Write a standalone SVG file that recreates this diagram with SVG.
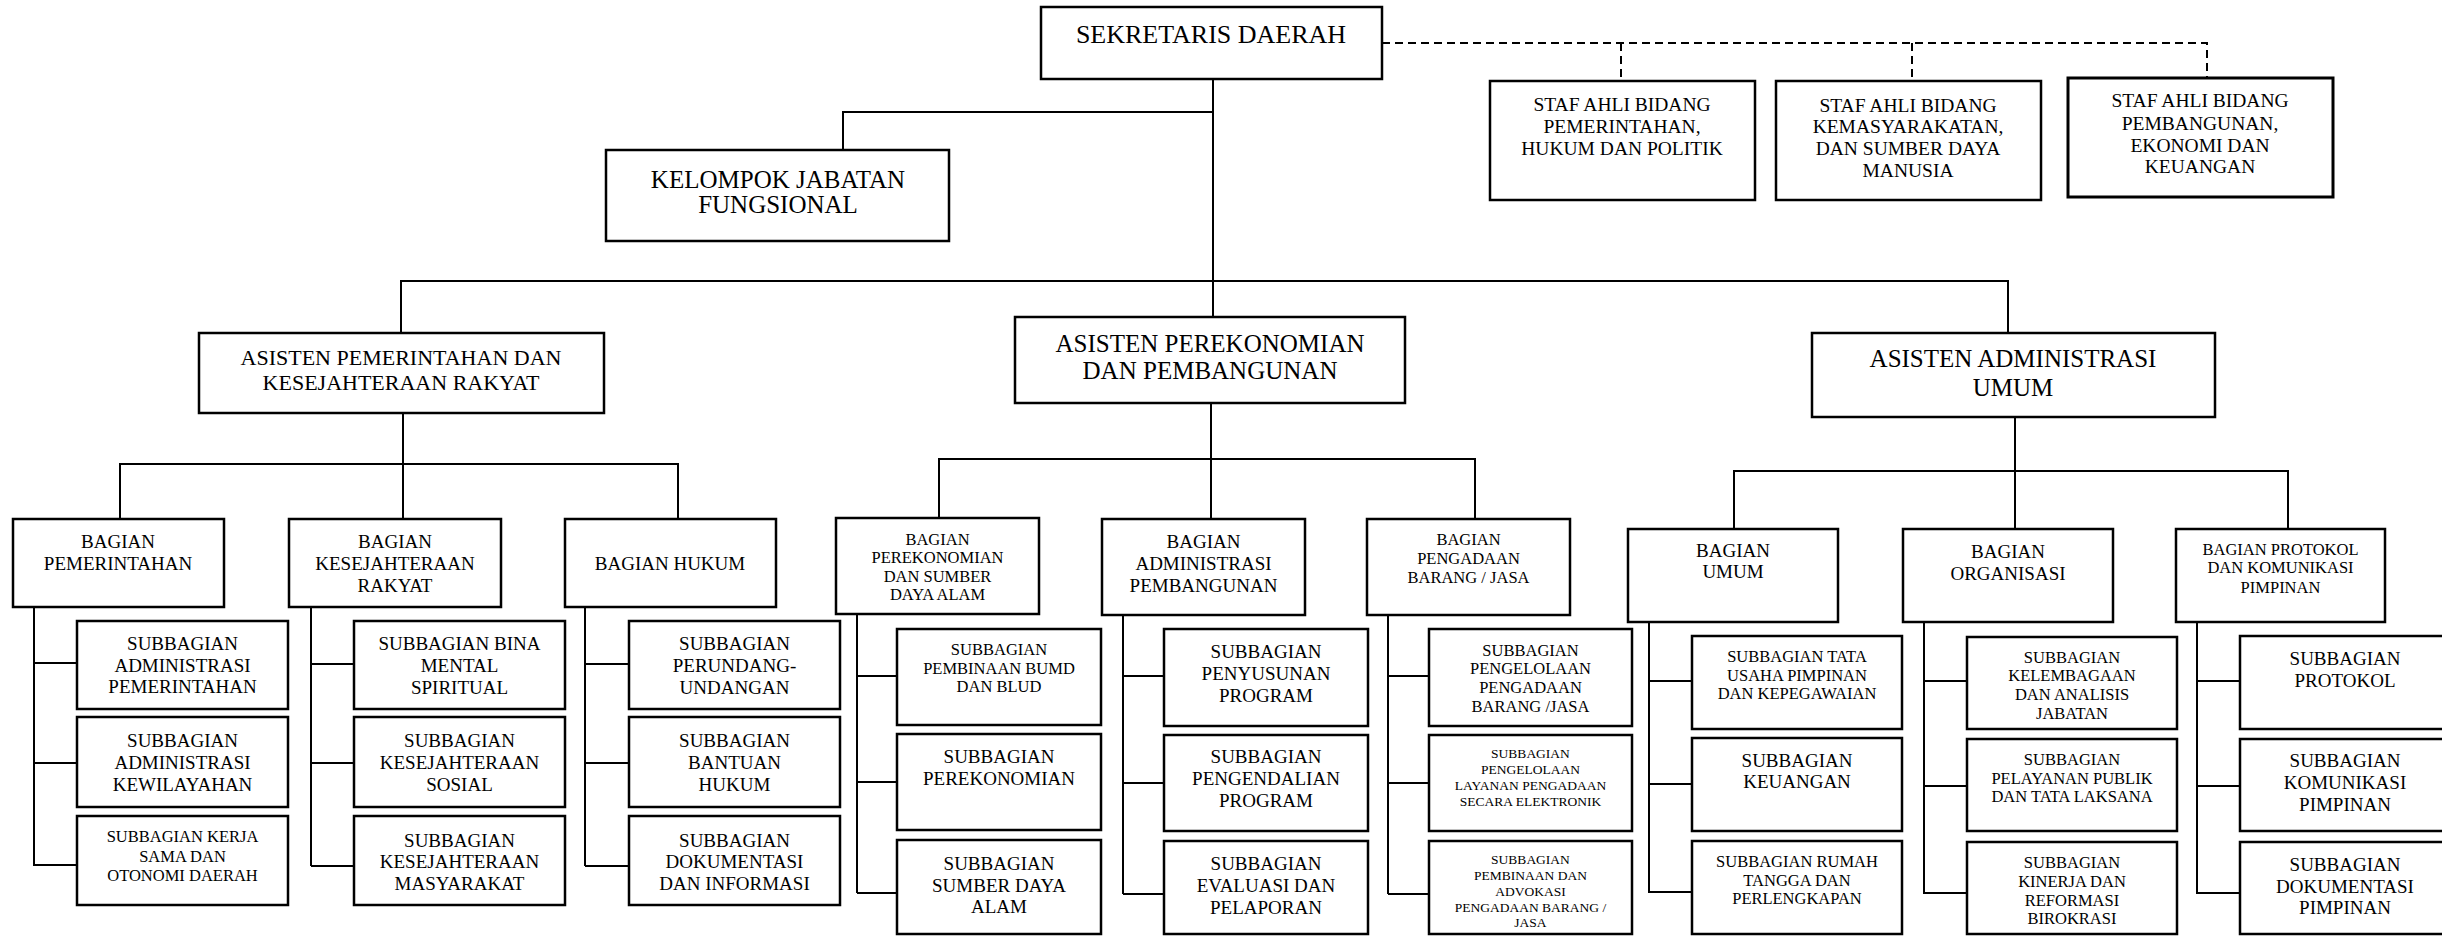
<svg xmlns="http://www.w3.org/2000/svg" width="2442" height="936" viewBox="0 0 2442 936">
<style>
rect{fill:#fff;stroke:#000;stroke-width:2.5}
.c line,.c path{stroke:#000;stroke-width:2;fill:none}
.c .d{stroke-dasharray:8 5}
text{font-family:"Liberation Serif","Times New Roman",serif;text-anchor:middle;fill:#000}
.f26{font-size:26px}.f25{font-size:25px}.f22{font-size:22px}.f20{font-size:19.5px}.f19{font-size:19px}.f16{font-size:16.5px}.f14{font-size:13.5px}
</style>
<rect x="0" y="0" width="2442" height="936" style="stroke:none"/>
<g class="c" id="connectors">
<path d="M1213 79V317M1213 112H843V150"/>
<path d="M401 333V281H2008V333"/>
<path class="d" d="M1382 43H2207V78M1621 43V81M1912 43V81"/>
<path d="M403 413V464M120 519V464H678V519M403 464V519"/>
<path d="M1211 403V459M939 518V459H1475V519M1211 459V519"/>
<path d="M2015 417V471M1734 529V471H2288V529M2015 471V529"/>
<path d="M34 607V866M34 663H77M34 763H77M34 865H77"/>
<path d="M311 607V866M311 664H354M311 763H354M311 866H354"/>
<path d="M585 607V866M585 664H629M585 763H629M585 866H629"/>
<path d="M857 614V893M857 676H897M857 782H897M857 893H897"/>
<path d="M1123 615V894M1123 676H1164M1123 783H1164M1123 894H1164"/>
<path d="M1388 615V894M1388 676H1429M1388 783H1429M1388 894H1429"/>
<path d="M1649 622V893M1649 681H1692M1649 784H1692M1649 892H1692"/>
<path d="M1924 622V894M1924 681H1967M1924 786H1967M1924 893H1967"/>
<path d="M2197 622V894M2197 681H2240M2197 786H2240M2197 893H2240"/>
</g>
<g id="sekda"><rect x="1041" y="7" width="341" height="72"/><text class="f26" x="1211" y="43">SEKRETARIS DAERAH</text></g>
<g id="kjf"><rect x="606" y="150" width="343" height="91"/><text class="f25" x="778" y="188">KELOMPOK JABATAN</text><text class="f25" x="778" y="213">FUNGSIONAL</text></g>
<g id="staf1"><rect x="1490" y="81" width="265" height="119"/><text class="f20" x="1622" y="111">STAF AHLI BIDANG</text><text class="f20" x="1622" y="133">PEMERINTAHAN,</text><text class="f20" x="1622" y="155">HUKUM DAN POLITIK</text></g>
<g id="staf2"><rect x="1776" y="81" width="265" height="119"/><text class="f20" x="1908" y="112">STAF AHLI BIDANG</text><text class="f20" x="1908" y="133">KEMASYARAKATAN,</text><text class="f20" x="1908" y="155">DAN SUMBER DAYA</text><text class="f20" x="1908" y="177">MANUSIA</text></g>
<g id="staf3"><rect x="2068" y="78" width="265" height="119" style="stroke-width:3"/><text class="f20" x="2200" y="107">STAF AHLI BIDANG</text><text class="f20" x="2200" y="130">PEMBANGUNAN,</text><text class="f20" x="2200" y="152">EKONOMI DAN</text><text class="f20" x="2200" y="173">KEUANGAN</text></g>
<g id="asisten1"><rect x="199" y="333" width="405" height="80"/><text class="f22" x="401" y="365">ASISTEN PEMERINTAHAN DAN</text><text class="f22" x="401" y="390">KESEJAHTERAAN RAKYAT</text></g>
<g id="asisten2"><rect x="1015" y="317" width="390" height="86"/><text class="f25" x="1210" y="352">ASISTEN PEREKONOMIAN</text><text class="f25" x="1210" y="379">DAN PEMBANGUNAN</text></g>
<g id="asisten3"><rect x="1812" y="333" width="403" height="84"/><text class="f25" x="2013" y="367">ASISTEN ADMINISTRASI</text><text class="f25" x="2013" y="396">UMUM</text></g>
<g id="bag-pemerintahan"><rect x="13" y="519" width="211" height="88"/><text class="f19" x="118" y="548">BAGIAN</text><text class="f19" x="118" y="570">PEMERINTAHAN</text></g>
<g id="bag-kesra"><rect x="289" y="519" width="212" height="88"/><text class="f19" x="395" y="548">BAGIAN</text><text class="f19" x="395" y="570">KESEJAHTERAAN</text><text class="f19" x="395" y="592">RAKYAT</text></g>
<g id="bag-hukum"><rect x="565" y="519" width="211" height="88"/><text class="f19" x="670" y="570">BAGIAN HUKUM</text></g>
<g id="bag-perekonomian"><rect x="836" y="518" width="203" height="96"/><text class="f16" x="937.5" y="545">BAGIAN</text><text class="f16" x="937.5" y="563">PEREKONOMIAN</text><text class="f16" x="937.5" y="582">DAN SUMBER</text><text class="f16" x="937.5" y="600">DAYA ALAM</text></g>
<g id="bag-adminpemb"><rect x="1102" y="519" width="203" height="96"/><text class="f19" x="1203.5" y="548">BAGIAN</text><text class="f19" x="1203.5" y="570">ADMINISTRASI</text><text class="f19" x="1203.5" y="592">PEMBANGUNAN</text></g>
<g id="bag-pengadaan"><rect x="1367" y="519" width="203" height="96"/><text class="f16" x="1468.5" y="545">BAGIAN</text><text class="f16" x="1468.5" y="564">PENGADAAN</text><text class="f16" x="1468.5" y="583">BARANG / JASA</text></g>
<g id="bag-umum"><rect x="1628" y="529" width="210" height="93"/><text class="f19" x="1733" y="557">BAGIAN</text><text class="f19" x="1733" y="578">UMUM</text></g>
<g id="bag-organisasi"><rect x="1903" y="529" width="210" height="93"/><text class="f19" x="2008" y="558">BAGIAN</text><text class="f19" x="2008" y="580">ORGANISASI</text></g>
<g id="bag-protokol"><rect x="2176" y="529" width="209" height="93"/><text class="f16" x="2280.5" y="555">BAGIAN PROTOKOL</text><text class="f16" x="2280.5" y="573">DAN KOMUNIKASI</text><text class="f16" x="2280.5" y="593">PIMPINAN</text></g>
<g id="sub-1-1"><rect x="77" y="621" width="211" height="88"/><text class="f19" x="182.5" y="650">SUBBAGIAN</text><text class="f19" x="182.5" y="672">ADMINISTRASI</text><text class="f19" x="182.5" y="693">PEMERINTAHAN</text></g>
<g id="sub-1-2"><rect x="77" y="717" width="211" height="90"/><text class="f19" x="182.5" y="747">SUBBAGIAN</text><text class="f19" x="182.5" y="769">ADMINISTRASI</text><text class="f19" x="182.5" y="791">KEWILAYAHAN</text></g>
<g id="sub-1-3"><rect x="77" y="816" width="211" height="89"/><text class="f16" x="182.5" y="842">SUBBAGIAN KERJA</text><text class="f16" x="182.5" y="862">SAMA DAN</text><text class="f16" x="182.5" y="881">OTONOMI DAERAH</text></g>
<g id="sub-2-1"><rect x="354" y="621" width="211" height="88"/><text class="f19" x="459.5" y="650">SUBBAGIAN BINA</text><text class="f19" x="459.5" y="672">MENTAL</text><text class="f19" x="459.5" y="694">SPIRITUAL</text></g>
<g id="sub-2-2"><rect x="354" y="717" width="211" height="90"/><text class="f19" x="459.5" y="747">SUBBAGIAN</text><text class="f19" x="459.5" y="769">KESEJAHTERAAN</text><text class="f19" x="459.5" y="791">SOSIAL</text></g>
<g id="sub-2-3"><rect x="354" y="816" width="211" height="89"/><text class="f19" x="459.5" y="847">SUBBAGIAN</text><text class="f19" x="459.5" y="868">KESEJAHTERAAN</text><text class="f19" x="459.5" y="890">MASYARAKAT</text></g>
<g id="sub-3-1"><rect x="629" y="621" width="211" height="88"/><text class="f19" x="734.5" y="650">SUBBAGIAN</text><text class="f19" x="734.5" y="672">PERUNDANG-</text><text class="f19" x="734.5" y="694">UNDANGAN</text></g>
<g id="sub-3-2"><rect x="629" y="717" width="211" height="90"/><text class="f19" x="734.5" y="747">SUBBAGIAN</text><text class="f19" x="734.5" y="769">BANTUAN</text><text class="f19" x="734.5" y="791">HUKUM</text></g>
<g id="sub-3-3"><rect x="629" y="816" width="211" height="89"/><text class="f19" x="734.5" y="847">SUBBAGIAN</text><text class="f19" x="734.5" y="868">DOKUMENTASI</text><text class="f19" x="734.5" y="890">DAN INFORMASI</text></g>
<g id="sub-4-1"><rect x="897" y="629" width="204" height="96"/><text class="f16" x="999" y="655">SUBBAGIAN</text><text class="f16" x="999" y="674">PEMBINAAN BUMD</text><text class="f16" x="999" y="692">DAN BLUD</text></g>
<g id="sub-4-2"><rect x="897" y="734" width="204" height="96"/><text class="f19" x="999" y="763">SUBBAGIAN</text><text class="f19" x="999" y="785">PEREKONOMIAN</text></g>
<g id="sub-4-3"><rect x="897" y="840" width="204" height="94"/><text class="f19" x="999" y="870">SUBBAGIAN</text><text class="f19" x="999" y="892">SUMBER DAYA</text><text class="f19" x="999" y="913">ALAM</text></g>
<g id="sub-5-1"><rect x="1164" y="629" width="204" height="97"/><text class="f19" x="1266" y="658">SUBBAGIAN</text><text class="f19" x="1266" y="680">PENYUSUNAN</text><text class="f19" x="1266" y="702">PROGRAM</text></g>
<g id="sub-5-2"><rect x="1164" y="735" width="204" height="96"/><text class="f19" x="1266" y="763">SUBBAGIAN</text><text class="f19" x="1266" y="785">PENGENDALIAN</text><text class="f19" x="1266" y="807">PROGRAM</text></g>
<g id="sub-5-3"><rect x="1164" y="841" width="204" height="93"/><text class="f19" x="1266" y="870">SUBBAGIAN</text><text class="f19" x="1266" y="892">EVALUASI DAN</text><text class="f19" x="1266" y="914">PELAPORAN</text></g>
<g id="sub-6-1"><rect x="1429" y="629" width="203" height="97"/><text class="f16" x="1530.5" y="656">SUBBAGIAN</text><text class="f16" x="1530.5" y="674">PENGELOLAAN</text><text class="f16" x="1530.5" y="693">PENGADAAN</text><text class="f16" x="1530.5" y="712">BARANG /JASA</text></g>
<g id="sub-6-2"><rect x="1429" y="735" width="203" height="96"/><text class="f14" x="1530.5" y="758">SUBBAGIAN</text><text class="f14" x="1530.5" y="774">PENGELOLAAN</text><text class="f14" x="1530.5" y="790">LAYANAN PENGADAAN</text><text class="f14" x="1530.5" y="806">SECARA ELEKTRONIK</text></g>
<g id="sub-6-3"><rect x="1429" y="841" width="203" height="93"/><text class="f14" x="1530.5" y="864">SUBBAGIAN</text><text class="f14" x="1530.5" y="880">PEMBINAAN DAN</text><text class="f14" x="1530.5" y="896">ADVOKASI</text><text class="f14" x="1530.5" y="912">PENGADAAN BARANG /</text><text class="f14" x="1530.5" y="927">JASA</text></g>
<g id="sub-7-1"><rect x="1692" y="636" width="210" height="93"/><text class="f16" x="1797" y="662">SUBBAGIAN TATA</text><text class="f16" x="1797" y="681">USAHA PIMPINAN</text><text class="f16" x="1797" y="699">DAN KEPEGAWAIAN</text></g>
<g id="sub-7-2"><rect x="1692" y="738" width="210" height="93"/><text class="f19" x="1797" y="767">SUBBAGIAN</text><text class="f19" x="1797" y="788">KEUANGAN</text></g>
<g id="sub-7-3"><rect x="1692" y="841" width="210" height="93"/><text class="f16" x="1797" y="867">SUBBAGIAN RUMAH</text><text class="f16" x="1797" y="886">TANGGA DAN</text><text class="f16" x="1797" y="904">PERLENGKAPAN</text></g>
<g id="sub-8-1"><rect x="1967" y="637" width="210" height="92"/><text class="f16" x="2072" y="663">SUBBAGIAN</text><text class="f16" x="2072" y="681">KELEMBAGAAN</text><text class="f16" x="2072" y="700">DAN ANALISIS</text><text class="f16" x="2072" y="719">JABATAN</text></g>
<g id="sub-8-2"><rect x="1967" y="739" width="210" height="92"/><text class="f16" x="2072" y="765">SUBBAGIAN</text><text class="f16" x="2072" y="784">PELAYANAN PUBLIK</text><text class="f16" x="2072" y="802">DAN TATA LAKSANA</text></g>
<g id="sub-8-3"><rect x="1967" y="842" width="210" height="92"/><text class="f16" x="2072" y="868">SUBBAGIAN</text><text class="f16" x="2072" y="887">KINERJA DAN</text><text class="f16" x="2072" y="906">REFORMASI</text><text class="f16" x="2072" y="924">BIROKRASI</text></g>
<g id="sub-9-1"><rect x="2240" y="636" width="212" height="93"/><text class="f19" x="2345" y="665">SUBBAGIAN</text><text class="f19" x="2345" y="687">PROTOKOL</text></g>
<g id="sub-9-2"><rect x="2240" y="739" width="212" height="92"/><text class="f19" x="2345" y="767">SUBBAGIAN</text><text class="f19" x="2345" y="789">KOMUNIKASI</text><text class="f19" x="2345" y="811">PIMPINAN</text></g>
<g id="sub-9-3"><rect x="2240" y="842" width="212" height="92"/><text class="f19" x="2345" y="871">SUBBAGIAN</text><text class="f19" x="2345" y="893">DOKUMENTASI</text><text class="f19" x="2345" y="914">PIMPINAN</text></g>
</svg>
